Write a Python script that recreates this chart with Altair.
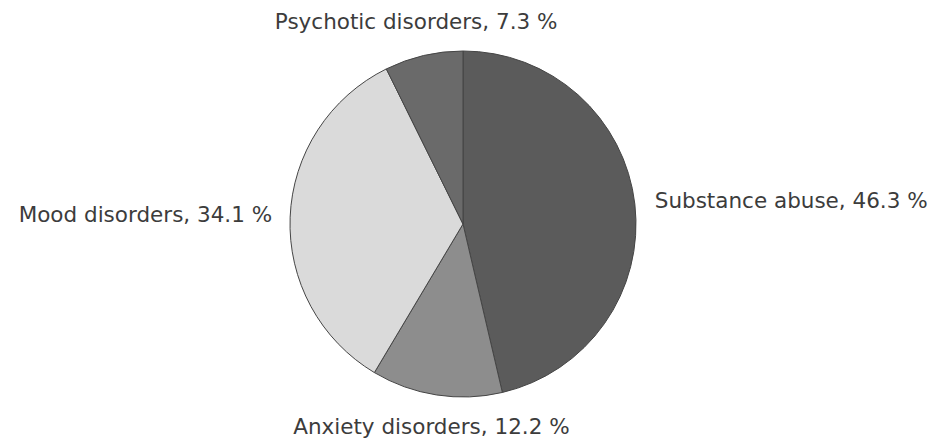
import altair as alt
import pandas as pd

# Data (clockwise from 12 o'clock)
categories = ["Substance abuse", "Anxiety disorders", "Mood disorders", "Psychotic disorders"]
values = [46.3, 12.2, 34.1, 7.3]
colors = ["#5b5b5b", "#8d8d8d", "#dadada", "#6a6a6a"]

df = pd.DataFrame({
    "category": categories,
    "value": values,
    "order": list(range(len(categories))),
})

base = alt.Chart(df).transform_joinaggregate(
    total="sum(value)"
).transform_window(
    cum="sum(value)", sort=[alt.SortField("order")], frame=[None, 0]
).transform_calculate(
    start="(datum.cum - datum.value) / datum.total",
    end="datum.cum / datum.total",
    mid="(datum.cum - datum.value / 2) / datum.total",
    label="datum.category + ', ' + format(datum.value, '.1f') + ' %'",
)

theta_scale = alt.Scale(domain=[0, 1], range=[0, 6.283185307179586])
color_scale = alt.Scale(domain=categories, range=colors)

pie = base.mark_arc(outerRadius=173, stroke="#454545", strokeWidth=1).encode(
    theta=alt.Theta("start:Q", scale=theta_scale),
    theta2="end:Q",
    color=alt.Color("category:N", scale=color_scale, legend=None),
    x=alt.value(463),
    y=alt.value(224),
)

font = "DejaVu Sans"
fsize = 21.5
tcolor = "#3c3c3c"

lab_center = base.transform_filter(
    alt.FieldOneOfPredicate(field="category", oneOf=["Psychotic disorders", "Anxiety disorders"])
).mark_text(align="center", baseline="middle", font=font, fontSize=fsize, color=tcolor).encode(
    theta=alt.Theta("mid:Q", scale=theta_scale),
    radius=alt.value(206),
    text="label:N",
    x=alt.value(463),
    y=alt.value(224),
)

lab_left = base.transform_filter(
    alt.FieldEqualPredicate(field="category", equal="Substance abuse")
).mark_text(align="left", baseline="middle", font=font, fontSize=fsize, color=tcolor).encode(
    theta=alt.Theta("mid:Q", scale=theta_scale),
    radius=alt.value(193),
    text="label:N",
    x=alt.value(463),
    y=alt.value(224),
)

lab_right = base.transform_filter(
    alt.FieldEqualPredicate(field="category", equal="Mood disorders")
).mark_text(align="right", baseline="middle", font=font, fontSize=fsize, color=tcolor).encode(
    theta=alt.Theta("mid:Q", scale=theta_scale),
    radius=alt.value(191),
    text="label:N",
    x=alt.value(463),
    y=alt.value(224),
)

chart = alt.layer(pie, lab_center, lab_left, lab_right).properties(
    width=937,
    height=444,
    autosize=alt.AutoSizeParams(type="none"),
    padding=0,
    background="white",
).configure_view(stroke=None)

chart.save("out.html", embed_options={"renderer": "svg", "actions": False})
